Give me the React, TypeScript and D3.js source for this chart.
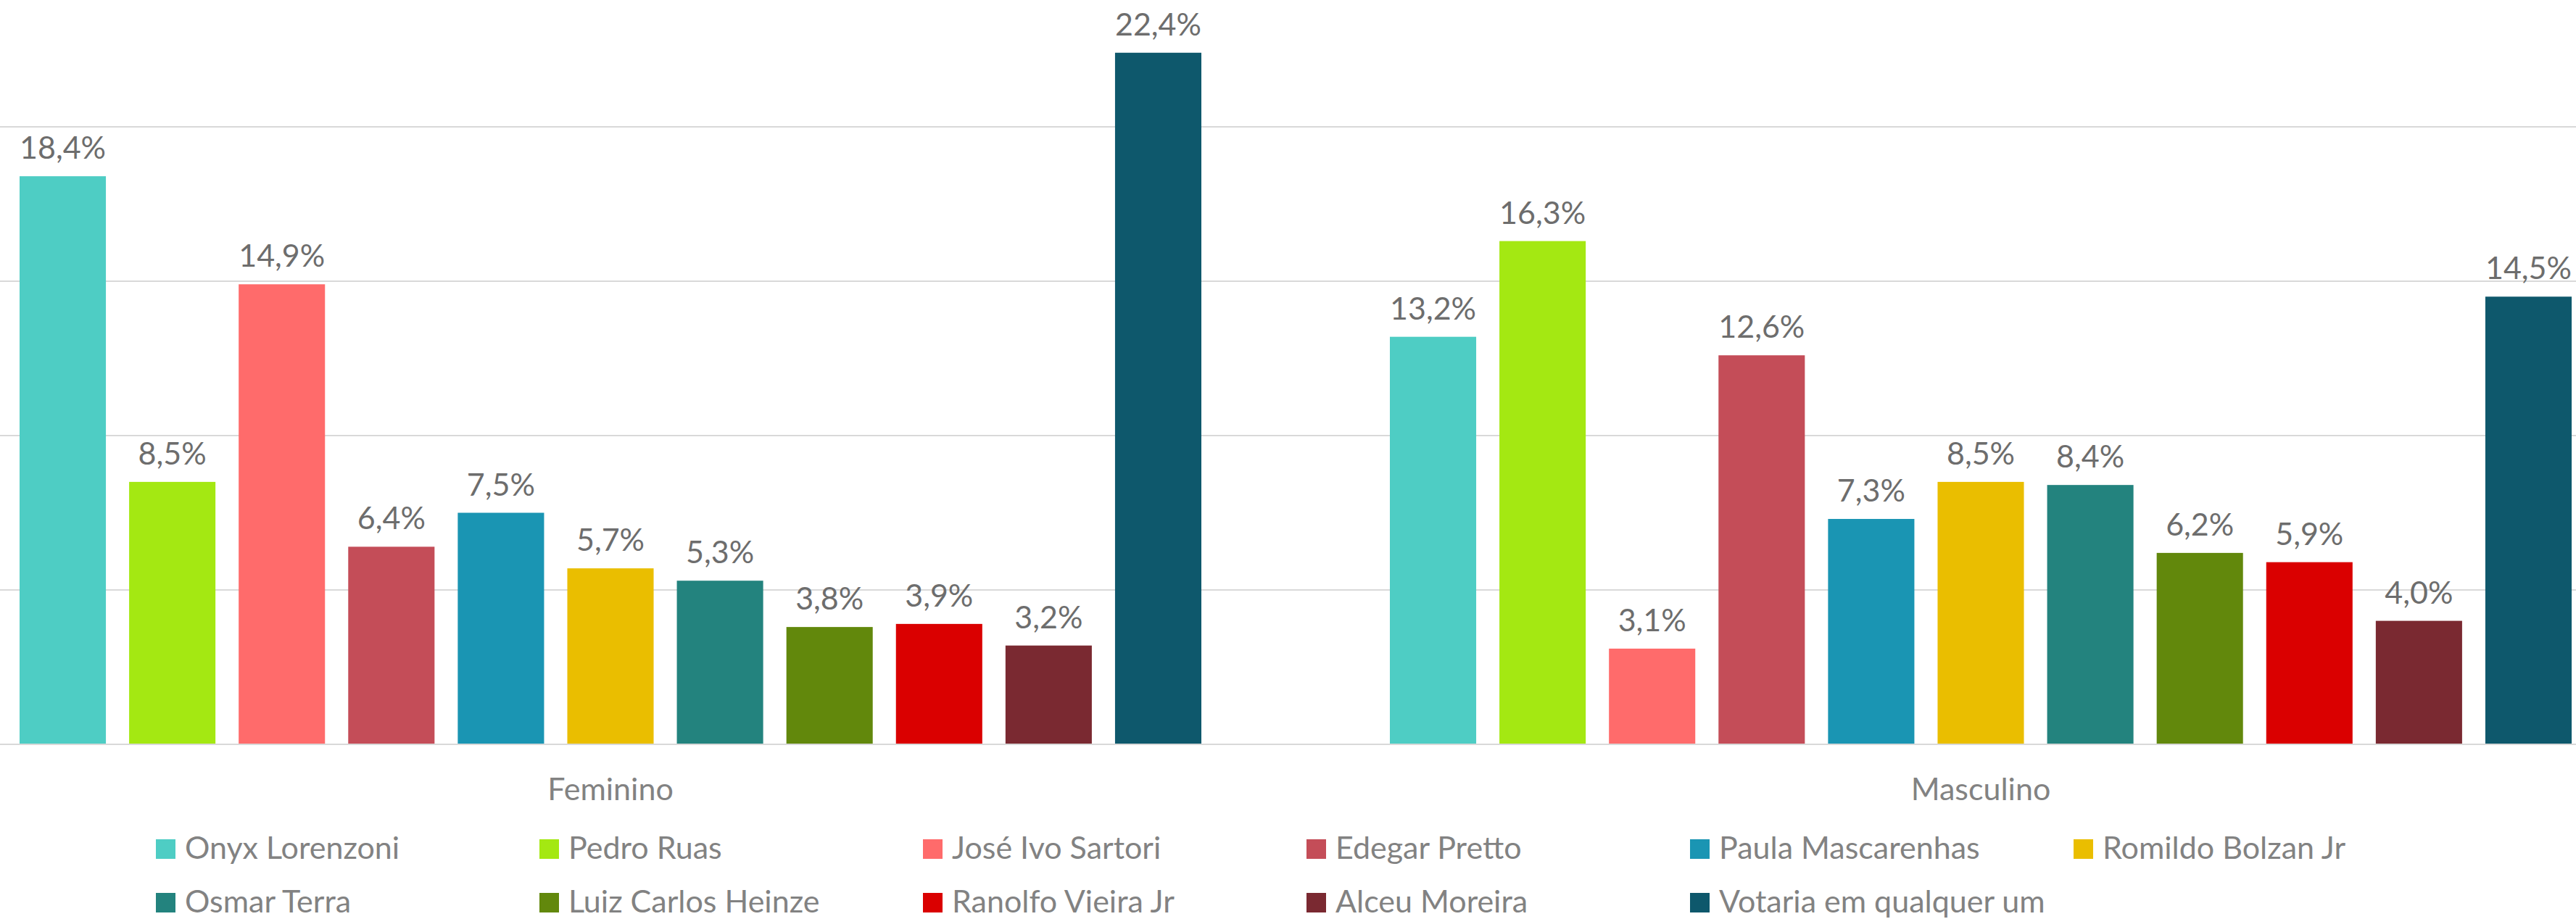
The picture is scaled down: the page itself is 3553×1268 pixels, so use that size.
import React from "react";
import * as d3 from "d3";

const categories = ["Feminino", "Masculino"];
const seriesNames = [
  "Onyx Lorenzoni",
  "Pedro Ruas",
  "José Ivo Sartori",
  "Edegar Pretto",
  "Paula Mascarenhas",
  "Romildo Bolzan Jr",
  "Osmar Terra",
  "Luiz Carlos Heinze",
  "Ranolfo Vieira Jr",
  "Alceu Moreira",
  "Votaria em qualquer um",
];
const seriesColors = [
  "#4ECDC4",
  "#A4E812",
  "#FF6B6B",
  "#C44D58",
  "#1A95B3",
  "#EABE00",
  "#23837E",
  "#62880C",
  "#DA0000",
  "#7A2931",
  "#0E586C",
];
const femininoValues = [18.4, 8.5, 14.9, 6.4, 7.5, 5.7, 5.3, 3.8, 3.9, 3.2, 22.4];
const masculinoValues = [13.2, 16.3, 3.1, 12.6, 7.3, 8.5, 8.4, 6.2, 5.9, 4.0, 14.5];
const gridTicks = [5, 10, 15, 20];

const W = 3553;
const H = 1268;
const FONT = "Lato, 'Open Sans', sans-serif";

export default function App() {
  const valuesByCat = [femininoValues, masculinoValues];
  const y = d3.scaleLinear().domain([0, 24.108]).range([1027, 0]);
  const x0 = d3.scaleBand<string>().domain(categories).range([-103, 3677]).paddingInner(0).paddingOuter(0);
  const x1 = d3.scaleBand<string>().domain(seriesNames).range([130, 1760]).paddingInner(0.212).paddingOuter(0);
  const fmt = (v: number) => v.toFixed(1).replace(".", ",") + "%";

  const legendCols = 6;
  const legendX0 = 215;
  const legendStepX = 529;
  const legendY0 = 1158;
  const legendStepY = 74;

  return (
    <svg width={W} height={H} style={{ position: "absolute", left: 0, top: 0, background: "#fff" }}>
      <rect x={0} y={0} width={W} height={H} fill="#fff" />
      {gridTicks.map((t) => (
        <line key={t} x1={0} x2={W} y1={y(t)} y2={y(t)} stroke="#D9D9D9" strokeWidth={2} />
      ))}
      {categories.map((c, ci) => (
        <g key={c} transform={`translate(${x0(c)},0)`}>
          {seriesNames.map((s, si) => {
            const v = valuesByCat[ci][si];
            const bx = x1(s)!;
            return (
              <g key={s}>
                <rect x={bx} y={y(v)} width={x1.bandwidth()} height={y(0) - y(v)} fill={seriesColors[si]} />
                <text
                  x={bx + x1.bandwidth() / 2}
                  y={y(v) - 24}
                  textAnchor="middle"
                  fontFamily={FONT}
                  fontSize={43}
                  fill="#6d6d6d"
                >
                  {fmt(v)}
                </text>
              </g>
            );
          })}
          <text
            x={x0.bandwidth() / 2}
            y={1104}
            textAnchor="middle"
            fontFamily={FONT}
            fontSize={43}
            fill="#828282"
          >
            {c}
          </text>
        </g>
      ))}
      <line x1={0} x2={W} y1={y(0)} y2={y(0)} stroke="#D9D9D9" strokeWidth={2} />
      {seriesNames.map((s, i) => {
        const col = i % legendCols;
        const row = Math.floor(i / legendCols);
        const lx = legendX0 + col * legendStepX;
        const ly = legendY0 + row * legendStepY;
        return (
          <g key={s}>
            <rect x={lx} y={ly} width={27} height={27} fill={seriesColors[i]} />
            <text x={lx + 40} y={ly + 27} fontFamily={FONT} fontSize={43} fill="#828282">
              {s}
            </text>
          </g>
        );
      })}
    </svg>
  );
}
